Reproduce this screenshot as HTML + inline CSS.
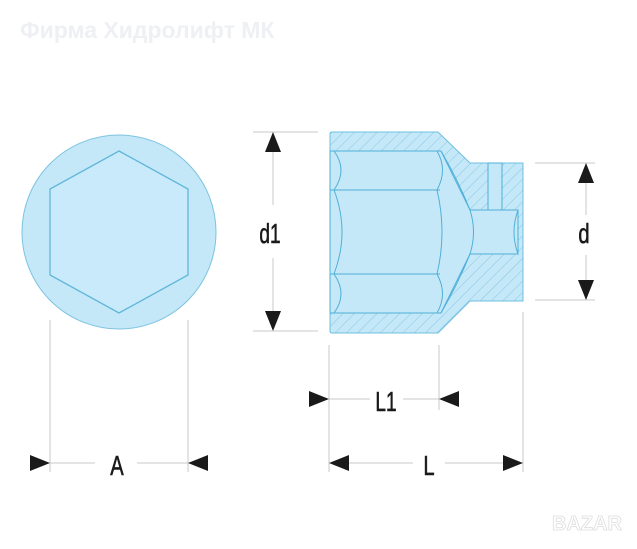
<!DOCTYPE html>
<html><head><meta charset="utf-8"><style>
html,body{margin:0;padding:0;background:#fff;width:637px;height:549px;overflow:hidden}
</style></head><body>
<svg width="637" height="549" viewBox="0 0 637 549" xmlns="http://www.w3.org/2000/svg">
<defs>
<pattern id="h" width="8" height="8" patternUnits="userSpaceOnUse" patternTransform="rotate(45)">
<rect width="8" height="8" fill="#c5e8f8"/>
<line x1="0" y1="0" x2="0" y2="8" stroke="#86c7e2" stroke-width="1"/>
</pattern>
</defs>
<text x="20" y="38" font-family="Liberation Sans, sans-serif" font-weight="bold" font-size="23" fill="#eef0f3">Фирма Хидролифт МК</text>
<!-- circle view -->
<circle cx="119" cy="232" r="97" fill="#c5e8f8" stroke="#7cc3e0" stroke-width="1"/>
<polygon points="119,151 188,189 188,275 119,313 50,275 50,189" fill="#c8eafa" stroke="#5fb6da" stroke-width="1.3"/>
<!-- section body -->
<path d="M332,132 H438 L470,163 H523 V301 H470 L438,333 H332 Q330,333 330,331 V134 Q330,132 332,132 Z" fill="url(#h)" stroke="#6dbfe0" stroke-width="1"/>
<!-- cavity -->
<path d="M330,151 H441 L470,210 H518 V254 H470 L441,313 H330 Z" fill="#c5e8f8" stroke="#4eb0d8" stroke-width="1"/>
<rect x="488" y="163" width="14" height="47" fill="#c5e8f8" stroke="#4eb0d8" stroke-width="1"/>
<g stroke="#4eb0d8" fill="none" stroke-width="1">
<line x1="330" y1="190" x2="440" y2="190"/>
<line x1="330" y1="274" x2="440" y2="274"/>
<path d="M334,151 Q348,170 334,190 Q350,232 334,274 Q348,294 334,313"/>
<path d="M437,151 Q448,170 437,190 Q447,232 437,274 Q448,294 437,313"/>
<path d="M441,151 Q458,180 470,210 Q477,232 470,254 Q458,284 441,313"/>
<path d="M518,210 Q510,232 518,254"/>
</g>
<!-- extension lines -->
<g stroke="#c8c8c8" stroke-width="1">
<line x1="50" y1="320" x2="50" y2="472"/>
<line x1="188" y1="320" x2="188" y2="472"/>
<line x1="329" y1="345" x2="329" y2="472"/>
<line x1="439" y1="345" x2="439" y2="410"/>
<line x1="523" y1="312" x2="523" y2="472"/>
<line x1="253" y1="132" x2="318" y2="132"/>
<line x1="253" y1="331" x2="318" y2="331"/>
<line x1="535" y1="163" x2="595" y2="163"/>
<line x1="535" y1="300" x2="595" y2="300"/>
<line x1="50" y1="463" x2="95" y2="463"/><line x1="137" y1="463" x2="188" y2="463"/>
<line x1="329" y1="399" x2="370" y2="399"/><line x1="403" y1="399" x2="439" y2="399"/>
<line x1="345" y1="463" x2="413" y2="463"/><line x1="445" y1="463" x2="510" y2="463"/>
<line x1="273" y1="145" x2="273" y2="205"/><line x1="273" y1="258" x2="273" y2="318"/>
<line x1="586" y1="176" x2="586" y2="215"/><line x1="586" y1="255" x2="586" y2="287"/>
</g>
<g fill="#1a1a1a">
<polygon points="30,455 50,463 30,471"/>
<polygon points="208,455 188,463 208,471"/>
<polygon points="309,391 329,399 309,407"/>
<polygon points="459,391 439,399 459,407"/>
<polygon points="349,455 329,463 349,471"/>
<polygon points="503,455 523,463 503,471"/>
<polygon points="265,152 273,132 281,152"/>
<polygon points="265,311 273,331 281,311"/>
<polygon points="578,183 586,163 594,183"/>
<polygon points="578,280 586,300 594,280"/>
</g>
<g font-family="Liberation Sans, sans-serif" font-size="28" fill="#1a1a1a" stroke="#1a1a1a" stroke-width="0.6" text-anchor="middle">
<text x="117" y="475" transform="translate(117 0) scale(0.72 1) translate(-117 0)">A</text>
<text x="386" y="411" transform="translate(386 0) scale(0.68 1) translate(-386 0)">L1</text>
<text x="429" y="475" transform="translate(429 0) scale(0.72 1) translate(-429 0)">L</text>
<text x="270" y="243" transform="translate(270 0) scale(0.68 1) translate(-270 0)">d1</text>
<text x="584" y="243" transform="translate(584 0) scale(0.72 1) translate(-584 0)">d</text>
</g>
<text x="587" y="530" font-family="Liberation Sans, sans-serif" font-weight="bold" font-size="20" fill="#fff" stroke="#ddd" stroke-width="0.8" text-anchor="middle">BAZAR</text>
</svg>
</body></html>
